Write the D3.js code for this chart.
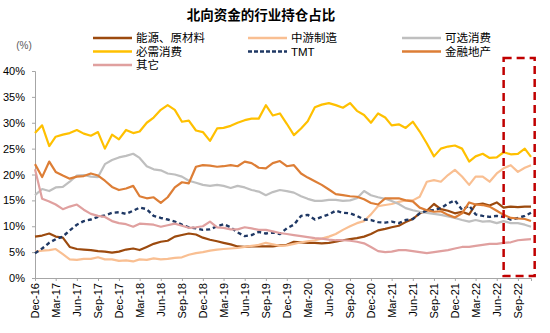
<!DOCTYPE html>
<html>
<head>
<meta charset="utf-8">
<script src="https://cdn.jsdelivr.net/npm/d3@7"></script>
<style>
  body { margin: 0; background: #fff; }
  text { font-family: "Liberation Sans", Arial, "Noto Sans CJK SC", sans-serif; }
  .cjk { font-family: "Noto Sans CJK SC", "Liberation Sans", sans-serif; }
</style>
</head>
<body>
<div id="chart"></div>
<script>
// month-end readings, Dec-16 .. Oct-22 (last value is the final week)
var seriesNames = ["能源、原材料", "中游制造", "可选消费", "必需消费", "TMT", "金融地产", "其它"];
var seriesColors = ["#9c4a0e", "#f9bf92", "#bfbfbf", "#ffc000", "#1f3864", "#dd7e36", "#e0a09f"];

var energy = [8.0,8.2,8.6,8.0,7.8,6.0,5.6,5.5,5.4,5.2,5.1,4.9,5.1,5.5,5.7,5.4,6.0,6.6,7.0,7.2,
  8.0,8.3,8.6,8.4,7.8,7.4,7.1,6.8,6.5,6.1,6.0,6.1,6.1,6.1,6.1,6.3,6.4,7.0,6.9,6.8,
  6.8,6.7,6.8,7.0,7.3,7.5,7.7,8.0,8.5,9.2,9.5,9.8,10.1,10.8,11.4,12.5,13.0,14.3,13.3,13.0,
  12.5,12.8,12.3,14.2,14.4,14.0,14.6,13.6,13.8,13.7,13.8,13.8];
var midstream = [5.1,5.3,5.4,5.6,4.6,3.6,3.5,3.7,3.7,4.0,3.6,3.6,3.3,3.4,3.2,3.6,3.5,3.8,3.6,3.7,
  3.9,4.0,4.5,4.8,5.0,5.3,5.5,5.6,5.7,5.8,6.0,6.2,6.4,6.8,6.5,6.2,6.3,6.6,6.9,7.1,
  7.3,7.6,8.0,8.5,9.3,10.0,10.6,11.0,12.3,13.9,14.1,14.3,14.7,15.0,15.0,15.7,18.6,18.9,18.6,19.9,
  20.9,19.6,18.0,19.6,19.6,18.6,20.2,21.2,21.8,20.5,21.3,21.8];
var discretionary = [16.0,17.2,16.8,17.5,17.6,18.6,19.8,19.9,19.6,19.5,22.0,22.8,23.3,23.6,24.0,23.2,21.6,21.0,20.8,20.2,
  20.0,19.6,18.8,18.4,18.0,17.8,18.0,17.8,17.4,17.8,17.5,17.0,16.7,16.0,16.6,17.0,16.8,16.5,15.8,15.3,
  14.9,14.9,15.1,15.1,14.9,15.0,15.4,16.8,16.0,15.6,15.3,14.9,14.3,13.5,13.1,12.8,12.6,12.4,12.2,11.9,
  11.6,11.2,10.9,11.2,10.9,11.0,10.6,11.0,10.6,10.6,10.3,9.9];
var staples = [28.0,29.5,25.5,27.3,27.7,28.0,28.6,27.9,27.5,28.2,25.0,27.7,26.8,28.6,28.0,28.3,30.0,31.0,32.5,33.4,
  32.5,30.2,30.4,28.5,28.2,26.5,28.9,29.0,29.4,30.0,30.5,30.8,30.8,33.4,31.4,31.8,29.8,27.6,28.9,30.3,
  33.0,33.5,33.8,33.4,32.9,33.8,32.3,31.5,30.0,31.8,31.0,29.5,29.7,29.0,30.2,28.3,26.0,23.5,25.0,25.4,
  25.6,25.0,22.5,23.5,24.0,23.2,23.3,24.3,23.9,24.0,25.0,23.4];
var tmt = [4.8,5.7,6.8,7.5,8.0,9.2,10.3,11.0,11.3,11.8,12.1,12.6,12.7,12.4,13.0,13.6,13.3,12.0,11.6,11.3,
  10.9,10.3,9.8,9.6,9.3,9.4,10.0,10.4,9.8,8.8,8.1,8.3,8.9,8.6,8.8,8.5,9.6,10.3,12.0,12.2,
  11.3,11.8,12.3,13.0,12.6,12.5,12.0,11.3,11.2,10.8,10.7,10.9,10.6,11.2,11.4,12.5,13.0,13.1,13.5,14.4,
  15.0,13.2,14.0,12.3,12.0,11.8,12.0,11.8,11.3,11.6,12.0,12.6];
var financials = [22.0,19.5,22.5,20.5,19.8,19.2,19.6,19.7,20.2,19.8,18.8,17.6,17.0,17.3,17.8,15.8,15.4,15.6,14.5,15.6,
  17.5,18.5,18.3,21.5,21.8,21.7,21.5,21.6,21.8,21.6,22.5,22.2,21.3,21.2,22.2,22.6,21.6,21.8,20.2,19.4,
  18.7,18.0,17.1,16.2,16.0,15.8,15.7,15.2,14.5,14.2,15.4,15.4,15.4,15.0,14.8,13.6,13.1,12.8,12.9,12.2,
  11.7,12.5,14.6,14.2,14.1,13.8,13.0,12.2,11.6,11.5,11.4,11.0];
var others = [21.0,15.3,14.8,14.2,13.3,13.8,14.2,13.2,12.4,12.0,11.8,11.0,10.6,10.4,9.9,10.5,10.4,10.3,9.9,10.2,
  10.5,10.1,9.7,9.8,10.0,10.9,9.8,9.7,9.4,9.4,9.8,9.6,9.3,9.3,9.0,8.7,8.5,8.3,8.1,7.9,
  7.7,7.6,7.4,7.3,7.3,7.2,7.0,6.7,6.0,5.2,5.0,5.1,5.4,5.4,5.2,5.0,4.8,5.0,5.2,5.4,
  5.7,6.0,6.0,6.2,6.4,6.6,6.6,6.8,6.9,7.3,7.4,7.5];

var seriesValues = [energy, midstream, discretionary, staples, tmt, financials, others];

var firstDate = new Date(2016, 11, 1);
var lastDate = new Date(2022, 9, 28);
var dates = d3.timeMonth.range(firstDate, new Date(2022, 9, 2)).concat([lastDate]);

var yTicks = [0, 5, 10, 15, 20, 25, 30, 35, 40];
// boxed recent period
var highlight = {from: new Date(2022, 6, 1), to: new Date(2022, 10, 13), top: 42.5, bottom: 0.4};

var W = 550, H = 333;
var margin = {top: 71, right: 19, bottom: 55, left: 35};

var svg = d3.select("#chart").append("svg")
    .attr("width", W)
    .attr("height", H);

var x = d3.scaleTime()
    .domain([firstDate, lastDate])
    .range([margin.left, W - margin.right]);

var y = d3.scaleLinear()
    .domain([0, 40])
    .range([H - margin.bottom, margin.top]);

// title
svg.append("text")
    .attr("class", "cjk")
    .attr("x", 261)
    .attr("y", 20)
    .attr("text-anchor", "middle")
    .style("font-size", "13.5px")
    .style("font-weight", "bold")
    .style("fill", "#000")
    .text("北向资金的行业持仓占比");

svg.append("text")
    .attr("x", 24)
    .attr("y", 49)
    .attr("text-anchor", "middle")
    .style("font-size", "10px")
    .style("fill", "#595959")
    .text("(%)");

// y axis
var yAxis = svg.append("g")
    .attr("transform", "translate(" + margin.left + ",0)")
    .call(d3.axisLeft(y).tickValues(yTicks).tickSize(3).tickPadding(7)
      .tickFormat(function(d) { return d + "%"; }));
yAxis.selectAll("text").style("font-size", "11px").style("fill", "#000");

// x axis, quarterly ticks starting at Dec-16
var xTicks = d3.timeMonth.range(firstDate, lastDate, 3);
var xAxis = svg.append("g")
    .attr("transform", "translate(0," + (H - margin.bottom) + ")")
    .call(d3.axisBottom(x).tickValues(xTicks).tickSize(3).tickPadding(4)
      .tickFormat(d3.timeFormat("%b-%y")));
xAxis.selectAll("text")
    .style("font-size", "11px")
    .style("fill", "#000")
    .attr("text-anchor", "end")
    .attr("transform", "rotate(-90)")
    .attr("x", -5)
    .attr("y", 0)
    .attr("dy", "0.35em");

svg.selectAll(".domain, .tick line").attr("stroke", "#a6a6a6");

// lines
var line = d3.line()
    .x(function(d, i) { return x(dates[i]); })
    .y(function(d) { return y(d); });

seriesValues.forEach(function(vals, k) {
  svg.append("path")
      .datum(vals)
      .attr("fill", "none")
      .attr("stroke", seriesColors[k])
      .attr("stroke-width", k == 4 ? 2.4 : 2.2)
      .attr("stroke-dasharray", k == 4 ? "4,3" : null)
      .attr("stroke-linejoin", "round")
      .attr("d", line);
});

// legend
var legendCols = [93, 248, 402], legendRows = [38, 51.5, 65];
var legend = svg.append("g");
seriesNames.forEach(function(name, k) {
  var lx = legendCols[k % 3], ly = legendRows[Math.floor(k / 3)];
  legend.append("line")
      .attr("x1", lx).attr("x2", lx + 39)
      .attr("y1", ly).attr("y2", ly)
      .attr("stroke", seriesColors[k])
      .attr("stroke-width", 2.6)
      .attr("stroke-dasharray", k == 4 ? "4,2" : null);
  legend.append("text")
      .attr("x", lx + 43)
      .attr("y", ly)
      .attr("dy", "0.36em")
      .style("font-size", "11.5px")
      .style("fill", "#000")
      .text(name);
});

// dashed red box over the latest months
svg.append("rect")
    .attr("x", x(highlight.from))
    .attr("y", y(highlight.top))
    .attr("width", x(highlight.to) - x(highlight.from))
    .attr("height", y(highlight.bottom) - y(highlight.top))
    .attr("fill", "none")
    .attr("stroke", "#c00000")
    .attr("stroke-width", 2.5)
    .attr("stroke-dasharray", "8,5");
</script>
</body>
</html>
